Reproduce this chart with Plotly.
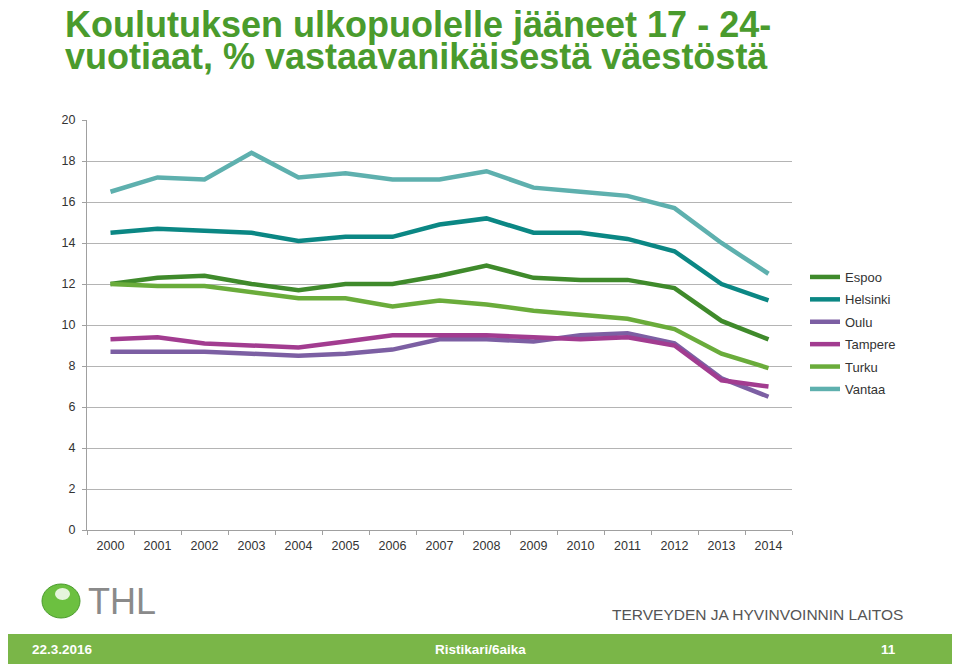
import plotly.graph_objects as go

years = [str(y) for y in range(2000, 2015)]
espoo = [12.0, 12.3, 12.4, 12.0, 11.7, 12.0, 12.0, 12.4, 12.9, 12.3, 12.2, 12.2, 11.8, 10.2, 9.3]
helsinki = [14.5, 14.7, 14.6, 14.5, 14.1, 14.3, 14.3, 14.9, 15.2, 14.5, 14.5, 14.2, 13.6, 12.0, 11.2]
oulu = [8.7, 8.7, 8.7, 8.6, 8.5, 8.6, 8.8, 9.3, 9.3, 9.2, 9.5, 9.6, 9.1, 7.4, 6.5]
tampere = [9.3, 9.4, 9.1, 9.0, 8.9, 9.2, 9.5, 9.5, 9.5, 9.4, 9.3, 9.4, 9.0, 7.3, 7.0]
turku = [12.0, 11.9, 11.9, 11.6, 11.3, 11.3, 10.9, 11.2, 11.0, 10.7, 10.5, 10.3, 9.8, 8.6, 7.9]
vantaa = [16.5, 17.2, 17.1, 18.4, 17.2, 17.4, 17.1, 17.1, 17.5, 16.7, 16.5, 16.3, 15.7, 14.0, 12.5]
y_ticks = [0, 2, 4, 6, 8, 10, 12, 14, 16, 18, 20]

series = [
    ("Espoo", espoo, "#3f8a2b"),
    ("Helsinki", helsinki, "#0b8784"),
    ("Oulu", oulu, "#7c5fa3"),
    ("Tampere", tampere, "#a23c90"),
    ("Turku", turku, "#6aac3b"),
    ("Vantaa", vantaa, "#5eb0ae"),
]

fig = go.Figure()
for name, vals, col in series:
    fig.add_trace(go.Scatter(x=years, y=vals, name=name, mode="lines", legendgroup=name,
                             line=dict(color=col, width=4.5)))

# page has 8px body margin; page px p -> paper (p-87)/705 horizontally, (530-p)/410 vertically
def px(p):
    return (p - 87) / 705

def py(p):
    return (530 - p) / 410

fig.update_layout(
    width=952, height=658,
    margin=dict(l=79, r=168, t=112, b=136),
    paper_bgcolor="white", plot_bgcolor="white",
    font=dict(family="Liberation Sans, Arial, sans-serif", size=12, color="#333333"),
    showlegend=True,
    legend=dict(x=px(805), y=py(262), xanchor="left", yanchor="top",
                font=dict(size=13, color="#333333"), itemwidth=30,
                tracegroupgap=2.5, bgcolor="rgba(0,0,0,0)"),
    xaxis=dict(type="category", range=[-0.5, 14.5], showgrid=False, showline=True,
               linecolor="#a0a0a0", linewidth=1, ticks="outside", tickson="boundaries",
               ticklen=4, tickcolor="#a0a0a0", tickfont=dict(size=12.5, color="#333333"),
               ticklabelstandoff=4, fixedrange=True),
    yaxis=dict(range=[0, 20], tickvals=y_ticks, showgrid=True, gridcolor="#b4b4b4",
               gridwidth=1, showline=True, linecolor="#a0a0a0", linewidth=1,
               ticks="outside", ticklen=4, tickcolor="#a0a0a0", zeroline=False,
               tickfont=dict(size=12.5, color="#333333"), ticklabelstandoff=4,
               fixedrange=True),
)

# Title (two lines)
title_font = dict(family="Liberation Sans, Arial", size=36, color="#4a9b2d")
for txt, yc in [("<b>Koulutuksen ulkopuolelle jääneet 17 - 24-</b>", 24),
                ("<b>vuotiaat, % vastaavanikäisestä väestöstä</b>", 56)]:
    fig.add_annotation(xref="paper", yref="paper", x=px(63), y=py(yc),
                       xanchor="left", yanchor="middle", showarrow=False,
                       text=txt, font=title_font)

# THL logo
fig.add_shape(type="circle", xref="paper", yref="paper",
              x0=px(42), x1=px(80), y0=py(618), y1=py(584),
              fillcolor="#6cc040", line=dict(color="#4a9b2d", width=1), layer="above")
fig.add_shape(type="circle", xref="paper", yref="paper",
              x0=px(55), x1=px(70), y0=py(600), y1=py(588),
              fillcolor="#e6f5dc", line=dict(width=0), layer="above")
fig.add_annotation(xref="paper", yref="paper", x=px(86), y=py(601),
                   xanchor="left", yanchor="middle", showarrow=False, text="THL",
                   font=dict(family="Liberation Sans, Arial", size=36, color="#8a8a8a"))
fig.add_annotation(xref="paper", yref="paper", x=px(905), y=py(614),
                   xanchor="right", yanchor="middle", showarrow=False,
                   text="TERVEYDEN JA HYVINVOINNIN LAITOS",
                   font=dict(family="Liberation Sans, Arial", size=15.5, color="#555555"))

# Footer bar
fig.add_shape(type="rect", xref="paper", yref="paper",
              x0=px(5), x1=px(955), y0=py(664), y1=py(634),
              fillcolor="#7ab648", line=dict(width=0), layer="above")
for txt, xp, anchor in [("22.3.2016", 30, "left"), ("Ristikari/6aika", 480, "center"), ("11", 898, "right")]:
    fig.add_annotation(xref="paper", yref="paper", x=px(xp), y=py(649),
                       xanchor=anchor, yanchor="middle", showarrow=False, text="<b>" + txt + "</b>",
                       font=dict(family="Liberation Sans, Arial", size=13.5, color="white"))

fig.write_html("out.html")
